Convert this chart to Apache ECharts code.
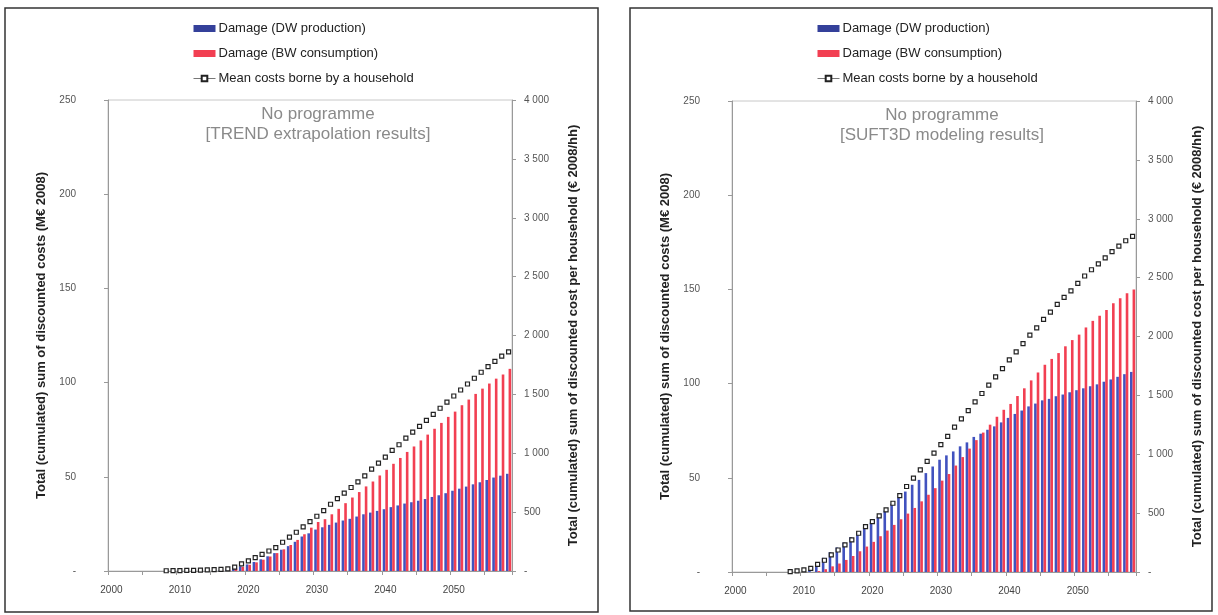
<!DOCTYPE html>
<html>
<head>
<meta charset="utf-8">
<script src="https://cdn.jsdelivr.net/npm/echarts@6/dist/echarts.min.js"></script>
<style>
html,body{margin:0;padding:0;background:#fff;}
#chart{width:1218px;height:615px;}
</style>
</head>
<body>
<div id="chart"></div>
<script>
// ---- categories ----
var years = ['2000','2001','2002','2003','2004','2005','2006','2007','2008','2009',
  '2010','2011','2012','2013','2014','2015','2016','2017','2018','2019',
  '2020','2021','2022','2023','2024','2025','2026','2027','2028','2029',
  '2030','2031','2032','2033','2034','2035','2036','2037','2038','2039',
  '2040','2041','2042','2043','2044','2045','2046','2047','2048','2049',
  '2050','2051','2052','2053','2054','2055','2056','2057','2058'];

// ---- panel 1: TREND extrapolation (M€ 2008, left axis) ----
var trendDW = [0,0,0,0,0,0,0,0,0,0, 0,0,0,0,0,0,
  0.3,0.8,1.5,2.5,3.5,4.8,6.2,7.8,9.5,11.3,13.2,15.5,18.3,20.0,
  22.0,23.2,24.5,25.7,26.8,27.7,28.9,30.1,31.0,31.9,
  32.8,33.9,34.8,35.8,36.5,37.3,38.2,39.3,40.2,41.3,
  42.6,43.7,44.8,46.0,47.1,48.3,49.6,50.6,51.6];
var trendBW = [0,0,0,0,0,0,0,0,0,0, 0,0,0,0,0,0,
  0.2,0.6,1.2,2.2,3.3,4.6,6.0,7.7,9.5,11.5,13.8,16.5,19.5,23.0,
  26.0,27.5,30.1,33.0,36.0,39.0,41.9,44.9,47.5,50.7,
  53.7,56.9,60.0,63.2,66.1,69.3,72.4,75.5,78.6,81.8,
  84.6,88.0,91.0,94.0,96.8,99.5,102.1,104.3,107.3];
// € 2008 / hh, right axis
var trendHH = [null,null,null,null,null,null,null,null,
  2,3,4,5,6,7,9,11,14,18,33,60,
  86,113,142,170,199,244,287,329,374,420,
  465,513,567,615,661,709,757,808,865,916,
  967,1024,1072,1129,1180,1228,1279,1330,1382,1434,
  1486,1537,1588,1637,1688,1736,1781,1824,1861];

// ---- panel 2: SUFT3D modeling ----
var suftDW = [0,0,0,0,0,0,0,0,0,0, 0,
  1.0,4.0,7.5,10.5,13.0,15.6,18.5,20.9,23.8,
  26.2,29.4,32.6,36.2,39.5,42.7,46.3,48.9,52.5,56.0,
  59.6,61.9,64.0,66.7,68.8,71.7,73.4,75.5,77.3,79.4,
  81.8,83.9,85.7,87.9,89.4,91.1,91.9,93.3,94.2,95.4,
  96.5,97.5,98.6,99.6,101.0,102.2,103.6,105.0,106.2];
var suftBW = [0,0,0,0,0,0,0,0,0,0, 0,0,
  0.5,1.5,3.0,4.5,6.4,8.5,11.0,13.5,
  16.0,19.0,22.0,25.0,28.0,31.0,34.0,37.5,41.0,44.5,
  48.5,52.0,56.5,61.0,65.5,70.0,74.0,78.2,82.4,86.1,
  89.2,93.4,97.5,101.7,105.9,110.0,113.1,116.2,119.8,123.1,
  126.0,129.8,133.3,136.0,139.1,142.6,145.3,148.0,150.0];
var suftHH = [null,null,null,null,null,null,null,null,
  3,10,18,30,65,100,145,187,230,272,329,386,
  428,477,528,584,649,726,797,868,939,1010,
  1081,1152,1230,1300,1371,1445,1516,1587,1657,1728,
  1801,1869,1940,2011,2074,2145,2207,2272,2332,2388,
  2451,2514,2567,2617,2667,2721,2767,2813,2850];

var nameDW = 'Damage (DW production)';
var nameBW = 'Damage (BW consumption)';
var nameHH = 'Mean costs borne by a household';
var titles = ['No programme\n[TREND extrapolation results]', 'No programme\n[SUFT3D modeling results]'];
var leftTitle = 'Total (cumulated) sum of discounted costs (M€ 2008)';
var rightTitle = 'Total (cumulated) sum of discounted cost per household (€ 2008/hh)';

var BLUE = '#4152bf', RED = '#f23f52';
var FONT = 'Liberation Sans, Arial, sans-serif';

function fmtSpace(v){
  if (v === 0) return '-';
  var s = String(v);
  return s.length > 3 ? s.slice(0, s.length-3) + ' ' + s.slice(s.length-3) : s;
}

var panels = [
  {left: 108, top: 100, dw: trendDW, bw: trendBW, hh: trendHH, titleX: 318, legendX: 193},
  {left: 732, top: 101, dw: suftDW, bw: suftBW, hh: suftHH, titleX: 942, legendX: 817}
];

var option = {
  animation: false,
  backgroundColor: '#fff',
  textStyle: {fontFamily: FONT},
  title: [], legend: [], grid: [], xAxis: [], yAxis: [], series: [],
  graphic: [
    {type:'rect', shape:{x:5, y:8, width:593, height:604}, style:{fill:'none', stroke:'#333', lineWidth:1.5}, silent:true},
    {type:'rect', shape:{x:630, y:8, width:582, height:603}, style:{fill:'none', stroke:'#333', lineWidth:1.5}, silent:true}
  ]
};

panels.forEach(function(p, i){
  option.title.push({
    text: titles[i], left: p.titleX, top: p.top + 4, textAlign: 'center', padding: 0,
    textStyle: {fontFamily: FONT, fontSize: 17, fontWeight: 'normal', color: '#8a8a8a', lineHeight: 20}
  });
  option.legend.push({
    orient: 'vertical', left: p.legendX, top: 22, padding: 0, itemWidth: 22, itemHeight: 7, itemGap: 12,
    textStyle: {fontFamily: FONT, fontSize: 13, color: '#222', padding: [0,0,0,-2]},
    data: [
      {name: nameDW, icon: 'rect', itemStyle: {color: '#34409a'}},
      {name: nameBW, icon: 'rect'},
      {name: nameHH, lineStyle: {color: '#777', width: 1, opacity: 1}}
    ]
  });
  option.grid.push({left: p.left, top: p.top, width: 404, height: 471, show: true, borderColor: '#c8c8c8', borderWidth: 1});
  option.xAxis.push({
    type: 'category', gridIndex: i, data: years, boundaryGap: true,
    axisLine: {lineStyle: {color: '#999'}},
    axisTick: {show: true, interval: 4, length: 4, lineStyle: {color: '#999'}},
    axisLabel: {interval: 9, fontSize: 10, color: '#444', margin: 14, fontFamily: FONT}
  });
  option.yAxis.push({
    type: 'value', gridIndex: i, position: 'left', min: 0, max: 250, interval: 50,
    name: leftTitle, nameLocation: 'middle', nameGap: 60, nameRotate: 90,
    nameTextStyle: {fontFamily: FONT, fontSize: 13, fontWeight: 'bold', color: '#222'},
    axisLine: {show: true, lineStyle: {color: '#999'}},
    axisTick: {show: true, length: 4, lineStyle: {color: '#999'}},
    splitLine: {show: false},
    axisLabel: {fontSize: 10, color: '#555', margin: 32, fontFamily: FONT, formatter: function(v){ return v === 0 ? '-' : String(v); }}
  });
  option.yAxis.push({
    type: 'value', gridIndex: i, position: 'right', min: 0, max: 4000, interval: 500,
    name: rightTitle, nameLocation: 'middle', nameGap: 55, nameRotate: 90,
    nameTextStyle: {fontFamily: FONT, fontSize: 13, fontWeight: 'bold', color: '#222'},
    axisLine: {show: true, lineStyle: {color: '#999'}},
    axisTick: {show: true, length: 4, lineStyle: {color: '#999'}},
    splitLine: {show: false},
    axisLabel: {fontSize: 10, color: '#555', margin: 12, fontFamily: FONT, formatter: fmtSpace}
  });
  option.series.push({
    name: nameDW, type: 'bar', xAxisIndex: i, yAxisIndex: 2*i, data: p.dw,
    barGap: '0%', barCategoryGap: '24%', itemStyle: {color: BLUE}
  });
  option.series.push({
    name: nameBW, type: 'bar', xAxisIndex: i, yAxisIndex: 2*i, data: p.bw,
    barGap: '0%', barCategoryGap: '24%', itemStyle: {color: RED}
  });
  option.series.push({
    name: nameHH, type: 'line', xAxisIndex: i, yAxisIndex: 2*i+1, data: p.hh,
    symbol: 'rect', symbolSize: 4, showAllSymbol: true, connectNulls: false,
    lineStyle: {width: 0, opacity: 0},
    itemStyle: {color: '#fff', borderColor: '#222', borderWidth: 1.2},
    z: 5
  });
});

var chart = echarts.init(document.getElementById('chart'), null, {renderer: 'canvas'});
chart.setOption(option);
</script>
</body>
</html>
